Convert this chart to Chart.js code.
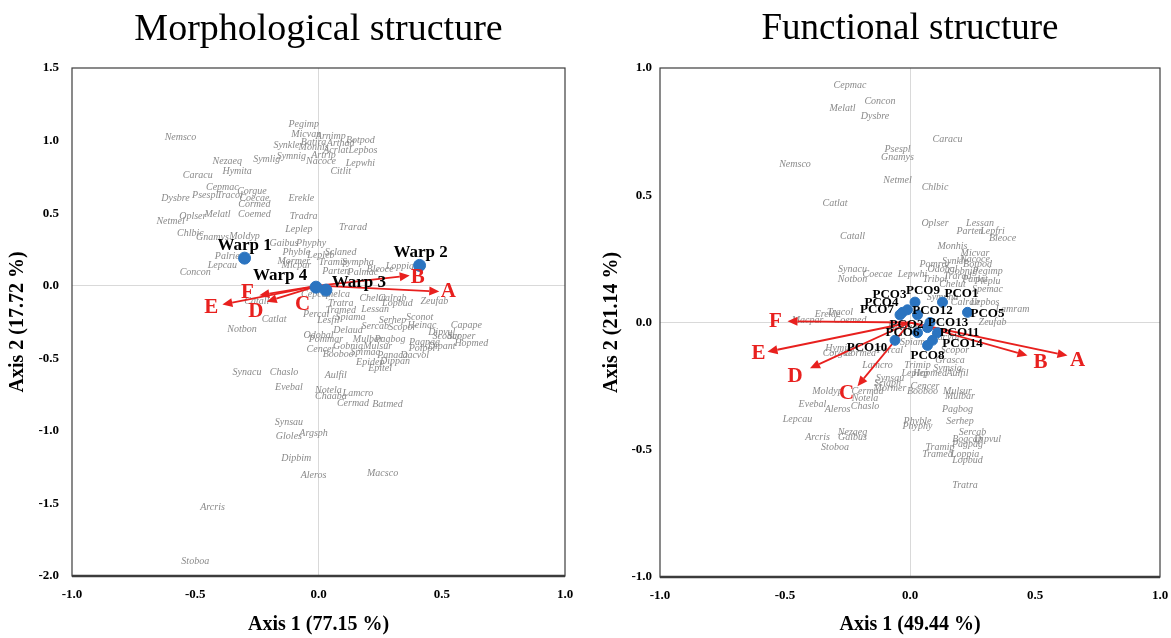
<!DOCTYPE html>
<html>
<head>
<meta charset="utf-8">
<script src="https://cdn.jsdelivr.net/npm/chart.js@4.4.1/dist/chart.umd.min.js"></script>
<style>
  html, body { margin: 0; padding: 0; background: #fff; overflow: hidden; }
  .panel { position: absolute; top: 0; }
  #morphPanel { left: 0; }
  #funcPanel { left: 590px; }
</style>
</head>
<body>
<div class="panel" id="morphPanel"><canvas id="morphChart" width="590" height="638"></canvas></div>
<div class="panel" id="funcPanel"><canvas id="funcChart" width="590" height="638"></canvas></div>
<script>
// Species scores on the first two axes: [code, axis 1, axis 2]
const morphSpecies = [
  ['Nemsco', -0.56, 1.02], ['Pegimp', -0.06, 1.11], ['Micvan', -0.05, 1.04], ['Arnimp', 0.05, 1.03],
  ['Botpod', 0.17, 1.00], ['Synkle', -0.13, 0.97], ['Batira', -0.02, 0.99], ['Arthad', 0.09, 0.98],
  ['Monhis', -0.02, 0.95], ['Lepbos', 0.18, 0.93], ['Acrlat', 0.07, 0.93], ['Symlig', -0.21, 0.87],
  ['Symnig', -0.11, 0.89], ['Artrip', 0.02, 0.90], ['Nacoce', 0.01, 0.86], ['Lepwhi', 0.17, 0.84],
  ['Citlit', 0.09, 0.79], ['Nezaeq', -0.37, 0.86], ['Hymita', -0.33, 0.79], ['Caracu', -0.49, 0.76],
  ['Cepmac', -0.39, 0.68], ['Corgue', -0.27, 0.65], ['Dysbre', -0.58, 0.60], ['Psespl', -0.46, 0.62],
  ['Tracol', -0.36, 0.62], ['Coecae', -0.26, 0.60], ['Cormed', -0.26, 0.56], ['Erekle', -0.07, 0.60],
  ['Melatl', -0.41, 0.49], ['Coemed', -0.26, 0.49], ['Oplser', -0.51, 0.48], ['Netmel', -0.60, 0.44],
  ['Tradra', -0.06, 0.48], ['Chlbic', -0.52, 0.36], ['Gnamys', -0.43, 0.33], ['Moldyp', -0.30, 0.34],
  ['Leplep', -0.08, 0.39], ['Trarad', 0.14, 0.40], ['Gaibus', -0.14, 0.29], ['Phyphy', -0.03, 0.29],
  ['Sclaned', 0.09, 0.23], ['Lepleb', 0.01, 0.21], ['Phyble', -0.09, 0.23], ['Palrie', -0.37, 0.20],
  ['Lepcau', -0.39, 0.14], ['Concon', -0.50, 0.09], ['Mormer', -0.10, 0.17], ['Micpar', -0.09, 0.14],
  ['Tramip', 0.06, 0.16], ['Sympha', 0.16, 0.16], ['Parten', 0.07, 0.10], ['Palmac', 0.18, 0.09],
  ['Bleoce', 0.25, 0.11], ['Loppia', 0.33, 0.13], ['Catall', -0.25, -0.11], ['Catlat', -0.18, -0.23],
  ['Notbon', -0.31, -0.30], ['Cepcep', -0.01, -0.06], ['Chelca', 0.07, -0.06], ['Chelut', 0.22, -0.09],
  ['Calrab', 0.30, -0.09], ['Lopbud', 0.32, -0.12], ['Zeufab', 0.47, -0.11], ['Tratra', 0.09, -0.12],
  ['Lessan', 0.23, -0.16], ['Tramed', 0.09, -0.17], ['Percal', -0.01, -0.20], ['Lesfil', 0.04, -0.24],
  ['Spiama', 0.13, -0.22], ['Odobal', 0.00, -0.34], ['Delaud', 0.12, -0.31], ['Sercab', 0.23, -0.28],
  ['Serhep', 0.30, -0.24], ['Sconot', 0.41, -0.22], ['Scopor', 0.34, -0.29], ['Heinac', 0.42, -0.27],
  ['Capape', 0.60, -0.27], ['Pommar', 0.03, -0.37], ['Mulbar', 0.20, -0.37], ['Pagbog', 0.29, -0.37],
  ['Dipvul', 0.50, -0.32], ['Scoaur', 0.52, -0.35], ['Scoper', 0.58, -0.35], ['Hopmed', 0.62, -0.40],
  ['Dipant', 0.50, -0.42], ['Pagpag', 0.43, -0.39], ['Polpol', 0.42, -0.43], ['Cencer', 0.01, -0.44],
  ['Gobnig', 0.12, -0.42], ['Mulsur', 0.24, -0.42], ['Booboo', 0.08, -0.47], ['Spimac', 0.19, -0.46],
  ['Panaca', 0.30, -0.48], ['Dacvol', 0.39, -0.48], ['Epidep', 0.21, -0.53], ['Dippan', 0.31, -0.52],
  ['Epitel', 0.25, -0.57], ['Synacu', -0.29, -0.60], ['Chaslo', -0.14, -0.60], ['Evebal', -0.12, -0.70],
  ['Aulfil', 0.07, -0.62], ['Notela', 0.04, -0.72], ['Lamcro', 0.16, -0.74], ['Chaaba', 0.05, -0.76],
  ['Cermad', 0.14, -0.81], ['Batmed', 0.28, -0.82], ['Synsau', -0.12, -0.94], ['Gloles', -0.12, -1.04],
  ['Argsph', -0.02, -1.02], ['Dipbim', -0.09, -1.19], ['Aleros', -0.02, -1.31], ['Macsco', 0.26, -1.29],
  ['Arcris', -0.43, -1.53], ['Stoboa', -0.50, -1.90]
];

const funcSpecies = [
  ['Cepmac', -0.24, 0.93], ['Concon', -0.12, 0.87], ['Melatl', -0.27, 0.84], ['Dysbre', -0.14, 0.81],
  ['Psespl', -0.05, 0.68], ['Gnamys', -0.05, 0.65], ['Caracu', 0.15, 0.72], ['Nemsco', -0.46, 0.62],
  ['Netmel', -0.05, 0.56], ['Chlbic', 0.10, 0.53], ['Catlat', -0.30, 0.47], ['Catall', -0.23, 0.34],
  ['Oplser', 0.10, 0.39], ['Lessan', 0.28, 0.39], ['Parten', 0.24, 0.36], ['Lepfri', 0.33, 0.36],
  ['Bleoce', 0.37, 0.33], ['Monhis', 0.17, 0.30], ['Micvar', 0.26, 0.27], ['Nacoce', 0.26, 0.25],
  ['Pomrar', 0.10, 0.23], ['Synkle', 0.18, 0.24], ['Botpod', 0.27, 0.23], ['Odobal', 0.13, 0.21],
  ['Gobnig', 0.21, 0.20], ['Pegimp', 0.31, 0.20], ['Lepwhi', 0.01, 0.19], ['Synacu', -0.23, 0.21],
  ['Coecae', -0.13, 0.19], ['Notbon', -0.23, 0.17], ['Tribol', 0.10, 0.17], ['Trarad', 0.19, 0.18],
  ['Parlat', 0.26, 0.17], ['Chelut', 0.17, 0.15], ['Pleplu', 0.31, 0.16], ['Spemac', 0.31, 0.13],
  ['Sympha', 0.13, 0.10], ['Calrab', 0.22, 0.08], ['Lepbos', 0.30, 0.08], ['Lamram', 0.41, 0.05],
  ['Zeufab', 0.33, 0.00], ['Delaud', -0.03, -0.02], ['Spiama', 0.02, -0.08], ['Percal', -0.08, -0.11],
  ['Dacvol', 0.14, -0.06], ['Scopor', 0.18, -0.11], ['Grasca', 0.16, -0.15], ['Erekle', -0.33, 0.03],
  ['Macpar', -0.41, 0.01], ['Tracol', -0.28, 0.04], ['Coemed', -0.24, 0.01], ['Hymita', -0.28, -0.10],
  ['Corgue', -0.29, -0.12], ['Cormed', -0.20, -0.12], ['Lamcro', -0.13, -0.17], ['Trimip', 0.03, -0.17],
  ['Symsig', 0.15, -0.18], ['Leplep', 0.02, -0.20], ['Synsau', -0.08, -0.22], ['Sciaph', -0.09, -0.24],
  ['Hopmed', 0.08, -0.20], ['Aulfil', 0.19, -0.20], ['Moldyp', -0.33, -0.27], ['Cermad', -0.17, -0.27],
  ['Mormer', -0.08, -0.26], ['Cencer', 0.06, -0.25], ['Booboo', 0.05, -0.27], ['Mulsur', 0.19, -0.27],
  ['Mulbar', 0.20, -0.29], ['Notela', -0.18, -0.30], ['Chaslo', -0.18, -0.33], ['Evebal', -0.39, -0.32],
  ['Aleros', -0.29, -0.34], ['Lepcau', -0.45, -0.38], ['Nezaeq', -0.23, -0.43], ['Gaibus', -0.23, -0.45],
  ['Arcris', -0.37, -0.45], ['Stoboa', -0.30, -0.49], ['Phyble', 0.03, -0.39], ['Phyphy', 0.03, -0.41],
  ['Pagbog', 0.19, -0.34], ['Serhep', 0.20, -0.39], ['Sercab', 0.25, -0.43], ['Dipvul', 0.31, -0.46],
  ['Bogcap', 0.23, -0.46], ['Pagpag', 0.23, -0.48], ['Loppia', 0.22, -0.52], ['Lopbud', 0.23, -0.54],
  ['Tramip', 0.12, -0.49], ['Tramed', 0.11, -0.52], ['Tratra', 0.22, -0.64]
];

// Site / group centroids
const warpNames = ['Warp 1', 'Warp 2', 'Warp 3', 'Warp 4'];
const warpAxis1 = [-0.30, 0.41, 0.03, -0.01];
const warpAxis2 = [0.19, 0.14, -0.03, -0.01];

const pcoNames = ['PCO1', 'PCO2', 'PCO3', 'PCO4', 'PCO5', 'PCO6', 'PCO7',
  'PCO8', 'PCO9', 'PCO10', 'PCO11', 'PCO12', 'PCO13', 'PCO14'];
const pcoAxis1 = [0.13, 0.07, -0.03, -0.01, 0.23, 0.03, -0.04, 0.07, 0.02, -0.06, 0.11, 0.03, 0.08, 0.09];
const pcoAxis2 = [0.08, -0.02, 0.04, 0.05, 0.04, -0.04, 0.03, -0.09, 0.08, -0.07, -0.04, 0.03, 0.00, -0.07];

// Trait vectors (arrow tips)
const traitNames = ['A', 'B', 'C', 'D', 'E', 'F'];
const morphTraitAxis1 = [0.49, 0.37, -0.02, -0.21, -0.39, -0.24];
const morphTraitAxis2 = [-0.04, 0.07, -0.05, -0.11, -0.13, -0.065];
const funcTraitAxis1 = [0.63, 0.47, -0.21, -0.40, -0.57, -0.49];
const funcTraitAxis2 = [-0.13, -0.13, -0.25, -0.18, -0.115, 0.005];

// label placement (pixels from the mark)
const warpLabelOffsets = [[0, -13], [1, -13], [33, -7], [-36, -12]];
const pcoLabelOffsets = [[19, -8], [-21, -3], [-13, -18], [-26, -7], [20, 1], [-15, 0], [-23, -5],
  [0, 10], [8, -11], [-28, 7], [22, 0], [15, -4], [18, 0], [30, 3]];
const morphLetterOffsets = [[9, 0], [8, 2], [-11, 12], [-11, 10], [-11, 3], [-12, -3]];
const funcLetterOffsets = [[10, 5], [13, 7], [-11, 7], [-15, 8], [-9, 2], [-12, 0]];

const SERIF = '"Liberation Serif", "Times New Roman", serif';
const RED = '#e8201e';
const BLUE = '#2b74c0';

const drawArrow = (ctx, x0, y0, x1, y1) => {
  const ang = Math.atan2(y1 - y0, x1 - x0);
  const head = 10;
  const half = 4.5;
  const bx = x1 - head * Math.cos(ang);
  const by = y1 - head * Math.sin(ang);
  ctx.beginPath();
  ctx.moveTo(x0, y0);
  ctx.lineTo(bx, by);
  ctx.stroke();
  ctx.beginPath();
  ctx.moveTo(x1, y1);
  ctx.lineTo(bx + half * Math.sin(ang), by - half * Math.cos(ang));
  ctx.lineTo(bx - half * Math.sin(ang), by + half * Math.cos(ang));
  ctx.closePath();
  ctx.fill();
};

// species codes, trait arrows, point labels and the plot frame
const biplotLayer = (cfg) => ({
  id: 'biplotLayer',
  beforeDatasetsDraw(chart) {
    const { ctx, scales: { x, y } } = chart;
    const speciesMeta = chart.getDatasetMeta(0);
    ctx.save();
    ctx.font = 'italic 10px ' + SERIF;
    ctx.fillStyle = '#8a8a8a';
    ctx.textAlign = 'center';
    ctx.textBaseline = 'middle';
    speciesMeta.data.forEach((pt, i) => ctx.fillText(cfg.species[i][0], pt.x, pt.y));

    const ox = x.getPixelForValue(0);
    const oy = y.getPixelForValue(0);
    ctx.strokeStyle = RED;
    ctx.fillStyle = RED;
    ctx.lineWidth = 1.8;
    cfg.traitX.forEach((tx, i) => {
      drawArrow(ctx, ox, oy, x.getPixelForValue(tx), y.getPixelForValue(cfg.traitY[i]));
    });
    ctx.restore();
  },
  afterDatasetsDraw(chart) {
    const { ctx, scales: { x, y } } = chart;
    const pointMeta = chart.getDatasetMeta(1);
    ctx.save();
    ctx.textAlign = 'center';
    ctx.textBaseline = 'middle';
    ctx.fillStyle = '#000';
    ctx.font = 'bold ' + cfg.pointFont + 'px ' + SERIF;
    pointMeta.data.forEach((pt, i) => {
      const [dx, dy] = cfg.pointOffsets[i];
      ctx.fillText(cfg.pointNames[i], pt.x + dx, pt.y + dy);
    });

    ctx.fillStyle = RED;
    ctx.font = 'bold 21px ' + SERIF;
    traitNames.forEach((name, i) => {
      const [dx, dy] = cfg.letterOffsets[i];
      ctx.fillText(name, x.getPixelForValue(cfg.traitX[i]) + dx, y.getPixelForValue(cfg.traitY[i]) + dy);
    });
    ctx.restore();
  },
  afterDraw(chart) {
    const { ctx, chartArea: a } = chart;
    ctx.save();
    ctx.strokeStyle = '#3c3c3c';
    ctx.lineWidth = 1.2;
    ctx.strokeRect(a.left, a.top, a.right - a.left, a.bottom - a.top);
    ctx.lineWidth = 2.4;
    ctx.beginPath();
    ctx.moveTo(a.left, a.bottom);
    ctx.lineTo(a.right, a.bottom);
    ctx.stroke();
    ctx.restore();
  }
});

const tickFont = { family: SERIF, size: 13, weight: 'bold' };
const axisTitleFont = { family: SERIF, size: 20, weight: 'bold' };
const zeroLine = (c) => (c.tick && c.tick.value === 0 ? '#d9d9d9' : 'rgba(0,0,0,0)');

const buildScales = (opts) => ({
  x: {
    type: 'linear',
    min: -1,
    max: 1,
    ticks: { stepSize: 0.5, padding: 11, color: '#000', font: tickFont, callback: (v) => Number(v).toFixed(1) },
    grid: { color: zeroLine, drawTicks: false },
    border: { display: false },
    title: { display: true, text: opts.xTitle, color: '#000', font: axisTitleFont, padding: { top: 0, bottom: 1 } },
    afterFit(scale) { scale.height = opts.xHeight; }
  },
  y: {
    type: 'linear',
    min: opts.yMin,
    max: opts.yMax,
    ticks: { stepSize: 0.5, padding: opts.yTickPad, color: '#000', font: tickFont, callback: (v) => Number(v).toFixed(1) },
    grid: { color: zeroLine, drawTicks: false },
    border: { display: false },
    title: { display: true, text: opts.yTitle, color: '#000', font: axisTitleFont, padding: { top: opts.yTitlePad, bottom: 0 } },
    afterFit(scale) { scale.width = opts.yWidth; }
  }
});

const renderBiplot = (canvasId, cfg) => {
  new Chart(document.getElementById(canvasId), {
    type: 'scatter',
    data: {
      datasets: [{
        label: 'Species',
        data: cfg.species.map((s) => ({ x: s[1], y: s[2] })),
        pointRadius: 0,
        pointHoverRadius: 0
      }, {
        label: 'Groups',
        data: cfg.pointX.map((v, i) => ({ x: v, y: cfg.pointY[i] })),
        pointRadius: cfg.pointRadius,
        backgroundColor: BLUE,
        borderColor: BLUE,
        borderWidth: 1
      }]
    },
    options: {
      responsive: false,
      animation: false,
      events: [],
      layout: { autoPadding: false, padding: { top: 0, left: 0, bottom: 0, right: cfg.rightPad } },
      plugins: {
        legend: { display: false },
        tooltip: { enabled: false },
        title: {
          display: true,
          text: cfg.title,
          fullSize: false,
          color: '#000',
          font: { family: SERIF, size: cfg.titleSize, weight: 'normal' },
          padding: { top: 7, bottom: 68 - 7 - cfg.titleSize * 1.2 }
        }
      },
      scales: buildScales(cfg.axes)
    },
    plugins: [biplotLayer(cfg)]
  });
};

renderBiplot('morphChart', {
  title: 'Morphological structure',
  titleSize: 38,
  species: morphSpecies,
  pointNames: warpNames,
  pointX: warpAxis1,
  pointY: warpAxis2,
  pointOffsets: warpLabelOffsets,
  pointFont: 17,
  pointRadius: 6,
  traitX: morphTraitAxis1,
  traitY: morphTraitAxis2,
  letterOffsets: morphLetterOffsets,
  rightPad: 25,
  axes: { xTitle: 'Axis 1 (77.15 %)', yTitle: 'Axis 2 (17.72 %)', yMin: -2, yMax: 1.5,
    xHeight: 62, yWidth: 72, yTickPad: 13, yTitlePad: 6 }
});

renderBiplot('funcChart', {
  title: 'Functional structure',
  titleSize: 37,
  species: funcSpecies,
  pointNames: pcoNames,
  pointX: pcoAxis1,
  pointY: pcoAxis2,
  pointOffsets: pcoLabelOffsets,
  pointFont: 13,
  pointRadius: 5,
  traitX: funcTraitAxis1,
  traitY: funcTraitAxis2,
  letterOffsets: funcLetterOffsets,
  rightPad: 20,
  axes: { xTitle: 'Axis 1 (49.44 %)', yTitle: 'Axis 2 (21.14 %)', yMin: -1, yMax: 1,
    xHeight: 61, yWidth: 70, yTickPad: 8, yTitlePad: 10 }
});
</script>
</body>
</html>
